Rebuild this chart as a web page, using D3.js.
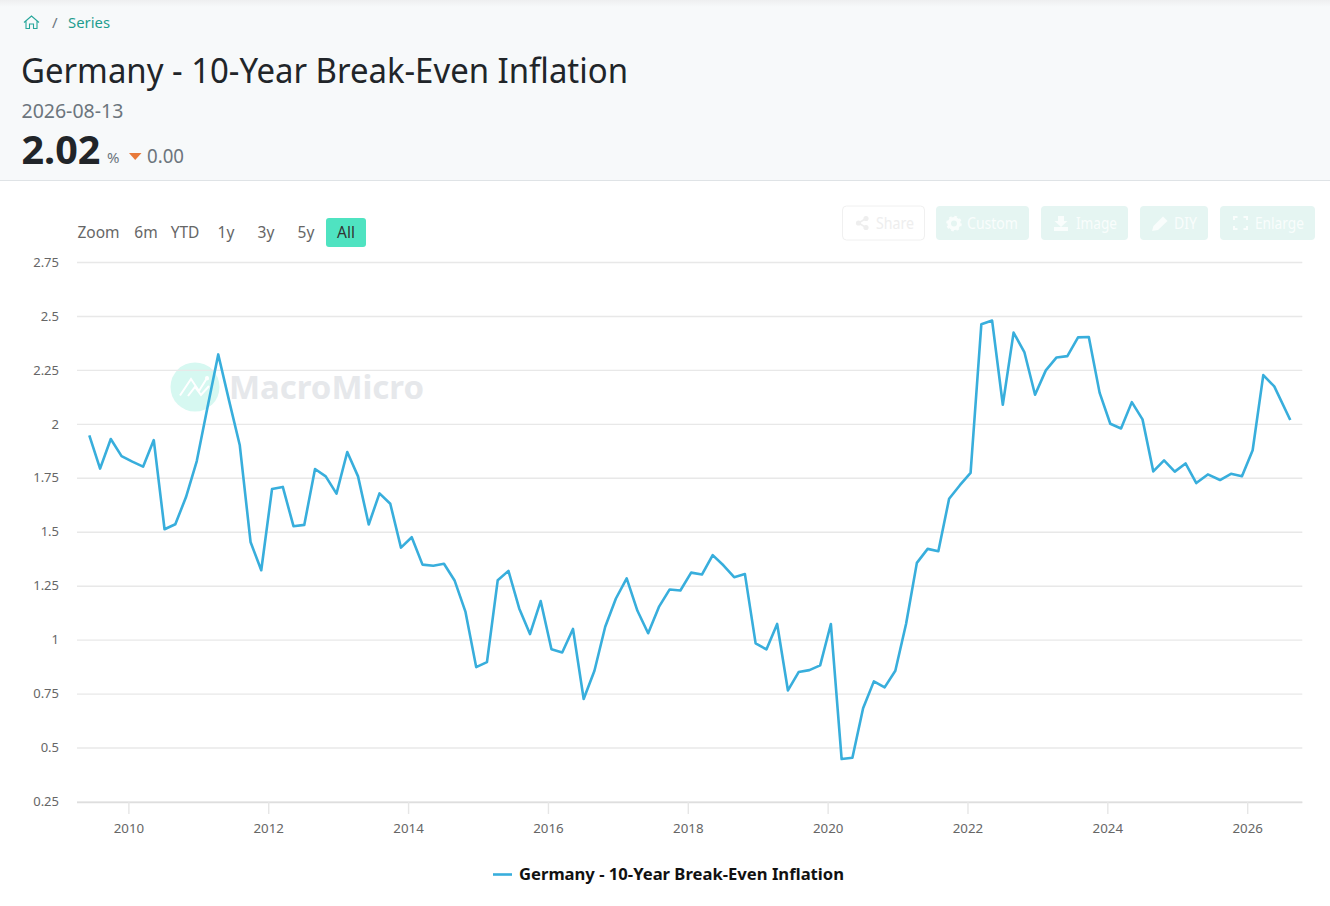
<!DOCTYPE html>
<html>
<head>
<meta charset="utf-8">
<title>Germany - 10-Year Break-Even Inflation</title>
<script src="https://cdnjs.cloudflare.com/ajax/libs/d3/7.8.5/d3.min.js"></script>
<style>
    html, body { margin: 0; padding: 0; background: #fff; overflow: hidden; }
    svg { display: block; font-family: "Noto Sans", sans-serif; }
</style>
</head>
<body>
<div id="chart"></div>
<script>
var years = [
    2009.434, 2009.588, 2009.741, 2009.895, 2010.049, 2010.203, 2010.356, 2010.510,
    2010.664, 2010.817, 2010.971, 2011.125, 2011.278, 2011.432, 2011.586, 2011.740,
    2011.893, 2012.047, 2012.201, 2012.354, 2012.508, 2012.662, 2012.815, 2012.969,
    2013.123, 2013.277, 2013.430, 2013.584, 2013.738, 2013.891, 2014.045, 2014.199,
    2014.353, 2014.506, 2014.660, 2014.814, 2014.967, 2015.121, 2015.275, 2015.428,
    2015.582, 2015.736, 2015.889, 2016.043, 2016.197, 2016.351, 2016.504, 2016.658,
    2016.812, 2016.965, 2017.119, 2017.273, 2017.426, 2017.580, 2017.734, 2017.887,
    2018.041, 2018.195, 2018.349, 2018.502, 2018.656, 2018.810, 2018.963, 2019.117,
    2019.271, 2019.425, 2019.578, 2019.732, 2019.886, 2020.039, 2020.193, 2020.347,
    2020.500, 2020.654, 2020.808, 2020.961, 2021.115, 2021.269, 2021.423, 2021.576,
    2021.730, 2021.884, 2022.037, 2022.191, 2022.345, 2022.498, 2022.652, 2022.806,
    2022.959, 2023.113, 2023.267, 2023.421, 2023.574, 2023.728, 2023.882, 2024.035,
    2024.189, 2024.343, 2024.496, 2024.650, 2024.804, 2024.957, 2025.111, 2025.265,
    2025.430, 2025.604, 2025.761, 2025.918, 2026.071, 2026.223, 2026.380, 2026.609
];
var values = [
    1.949, 1.795, 1.932, 1.853, 1.827, 1.804, 1.927, 1.514,
    1.537, 1.663, 1.830, 2.080, 2.324, 2.111, 1.903, 1.455,
    1.324, 1.700, 1.710, 1.528, 1.534, 1.793, 1.759, 1.679,
    1.872, 1.759, 1.536, 1.680, 1.632, 1.429, 1.477, 1.350,
    1.345, 1.354, 1.275, 1.131, 0.875, 0.898, 1.278, 1.321,
    1.147, 1.028, 1.181, 0.958, 0.943, 1.052, 0.727, 0.858,
    1.062, 1.193, 1.286, 1.136, 1.032, 1.154, 1.235, 1.230,
    1.313, 1.304, 1.394, 1.347, 1.292, 1.306, 0.985, 0.957,
    1.075, 0.767, 0.852, 0.861, 0.883, 1.075, 0.449, 0.455,
    0.684, 0.809, 0.781, 0.858, 1.076, 1.358, 1.423, 1.412,
    1.655, 1.718, 1.775, 2.464, 2.481, 2.091, 2.425, 2.335,
    2.137, 2.250, 2.310, 2.316, 2.403, 2.405, 2.147, 2.003,
    1.981, 2.103, 2.023, 1.782, 1.833, 1.781, 1.819, 1.728,
    1.768, 1.742, 1.771, 1.759, 1.880, 2.228, 2.176, 2.020
];
var yTicks = [0.25, 0.5, 0.75, 1, 1.25, 1.5, 1.75, 2, 2.25, 2.5, 2.75];
var xTicks = [2010, 2012, 2014, 2016, 2018, 2020, 2022, 2024, 2026];
var rangeLabels = ["6m", "YTD", "1y", "3y", "5y", "All"];
var seriesName = "Germany - 10-Year Break-Even Inflation";

function init(){
    var w = 1330, h = 906;
    var lineColor = "#38aedc";

    var svg = d3.select("#chart").append("svg")
        .attr("width", w)
        .attr("height", h);

    // page header band
    var defs = svg.append("defs");
    var fade = defs.append("linearGradient")
        .attr("id", "topfade")
        .attr("x1", 0).attr("y1", 0).attr("x2", 0).attr("y2", 1);
    fade.append("stop").attr("offset", 0).attr("stop-color", "#eeeff0");
    fade.append("stop").attr("offset", 1).attr("stop-color", "#f7f9fa");

    svg.append("rect").attr("width", w).attr("height", 180).attr("fill", "#f7f9fa");
    svg.append("rect").attr("width", w).attr("height", 7).attr("fill", "url(#topfade)");
    svg.append("rect").attr("y", 180).attr("width", w).attr("height", 1).attr("fill", "#dfe3e6");

    // home icon
    svg.append("path")
        .attr("d", "M24 22.5 L31.5 16 L39 22.5 M26 21 V28.5 H29.5 V24 H33.5 V28.5 H37 V21")
        .attr("fill", "none")
        .attr("stroke", "#26a69a")
        .attr("stroke-width", 1.1);
    svg.append("text").attr("x", 52).attr("y", 28).attr("font-size", 15).attr("fill", "#6c757d").text("/");
    svg.append("text").attr("x", 68).attr("y", 28).attr("font-size", 15).attr("fill", "#1f9d8f")
        .attr("textLength", 42).attr("lengthAdjust", "spacingAndGlyphs").text("Series");

    svg.append("text").attr("x", 21).attr("y", 83).attr("font-size", 35).attr("fill", "#212529")
        .attr("textLength", 607).attr("lengthAdjust", "spacingAndGlyphs").text(seriesName);
    svg.append("text").attr("x", 21.5).attr("y", 118).attr("font-size", 19.5).attr("fill", "#6c757d").text("2026-08-13");
    svg.append("text").attr("x", 21.5).attr("y", 164).attr("font-size", 39.5).attr("font-weight", 700).attr("fill", "#212529").text("2.02");
    svg.append("text").attr("x", 107).attr("y", 163).attr("font-size", 15).attr("fill", "#6c757d").text("%");
    svg.append("path").attr("d", "M129 153 H141.5 L135.2 160 Z").attr("fill", "#e8793a");
    svg.append("text").attr("x", 147).attr("y", 163).attr("font-size", 19).attr("fill", "#6c757d")
        .attr("textLength", 37).attr("lengthAdjust", "spacingAndGlyphs").text("0.00");

    // range selector
    svg.append("rect").attr("x", 326).attr("y", 218).attr("width", 40).attr("height", 29).attr("rx", 3).attr("fill", "#4fe3c1");
    svg.append("text").attr("x", 77.5).attr("y", 238).attr("font-size", 15.5).attr("fill", "#666").text("Zoom");
    var rangeX = [146, 185, 226, 266, 306, 346];
    svg.selectAll(".range-label")
        .data(rangeLabels)
        .enter().append("text")
        .attr("class", "range-label")
        .attr("x", (d, i) => rangeX[i])
        .attr("y", 238)
        .attr("text-anchor", "middle")
        .attr("font-size", 15.5)
        .attr("fill", d => d === "All" ? "#333" : "#666")
        .text(d => d);

    // toolbar buttons, washed out as in the original
    var buttons = [
        {label: "Share", x: 842.5, w: 82, tx: 876, tw: 38, fill: "#fff", stroke: "#f0f0f0", color: "#eeeeee"},
        {label: "Custom", x: 936, w: 93, tx: 967, tw: 51, fill: "#e5f5f2", color: "#f9fdfc"},
        {label: "Image", x: 1041, w: 87, tx: 1076, tw: 41, fill: "#e5f5f2", color: "#f9fdfc"},
        {label: "DIY", x: 1140, w: 68, tx: 1174, tw: 23, fill: "#e5f5f2", color: "#f9fdfc"},
        {label: "Enlarge", x: 1220, w: 95, tx: 1255, tw: 49, fill: "#e5f5f2", color: "#f9fdfc"}
    ];
    var btn = svg.selectAll(".btn").data(buttons).enter().append("g").attr("class", "btn");
    btn.append("rect")
        .attr("x", d => d.x).attr("y", 206)
        .attr("width", d => d.w).attr("height", 34)
        .attr("rx", 4)
        .attr("fill", d => d.fill)
        .attr("stroke", d => d.stroke || "none");
    btn.append("text")
        .attr("x", d => d.tx).attr("y", 229)
        .attr("font-size", 15.5)
        .attr("textLength", d => d.tw)
        .attr("lengthAdjust", "spacingAndGlyphs")
        .attr("fill", d => d.color)
        .text(d => d.label);
    // share icon
    svg.append("path")
        .attr("d", "M866 218.5 L858.5 223 L866 227.5")
        .attr("fill", "none").attr("stroke", "#eeeeee").attr("stroke-width", 1.6);
    svg.selectAll(".share-dot").data([[866, 218.5], [858.5, 223], [866, 227.5]]).enter().append("circle")
        .attr("class", "share-dot").attr("cx", d => d[0]).attr("cy", d => d[1]).attr("r", 2.6).attr("fill", "#eeeeee");
    // gear icon
    svg.append("circle").attr("cx", 954).attr("cy", 223.5).attr("r", 4.8)
        .attr("fill", "none").attr("stroke", "#f9fdfc").attr("stroke-width", 3.6);
    svg.append("circle").attr("cx", 954).attr("cy", 223.5).attr("r", 6.6)
        .attr("fill", "none").attr("stroke", "#f9fdfc").attr("stroke-width", 2.4).attr("stroke-dasharray", "2.6 2.6");
    // download icon
    svg.append("path").attr("d", "M1058 216 H1064 V221 H1067.5 L1061 227 L1054.5 221 H1058 Z M1054 227 H1068 V231 H1054 Z").attr("fill", "#f9fdfc");
    // pencil icon
    svg.append("path").attr("d", "M1152 231 L1153.5 226 L1163 216.5 L1167.5 221 L1158 230 Z").attr("fill", "#f9fdfc");
    // enlarge icon
    svg.append("path")
        .attr("d", "M1234 220 V217 H1237.5 M1243.5 217 H1247 V220 M1247 226 V229 H1243.5 M1237.5 229 H1234 V226")
        .attr("fill", "none").attr("stroke", "#f9fdfc").attr("stroke-width", 2);

    // scales
    var x = d3.scaleLinear()
        .domain([2009.258, 2026.781])
        .range([77, 1302.3]);
    var y = d3.scaleLinear()
        .domain([0.25, 2.75])
        .range([802, 262.5]);

    // watermark sits under the line
    var mark = svg.append("g");
    mark.append("circle").attr("cx", 195).attr("cy", 387).attr("r", 24.5).attr("fill", "#d6f8f1");
    mark.append("path")
        .attr("d", "M180 395.5 L191 379 L199 391 L207 378 L208 380 M188 396 L195 387 L201 395 L209 386")
        .attr("fill", "none").attr("stroke", "#fff").attr("stroke-width", 2);
    mark.append("circle").attr("cx", 207).attr("cy", 378).attr("r", 2).attr("fill", "#fff");
    mark.append("text")
        .attr("x", 229).attr("y", 399)
        .attr("font-size", 32).attr("font-weight", 700)
        .attr("textLength", 195).attr("lengthAdjust", "spacingAndGlyphs")
        .attr("fill", "#e6e8eb")
        .text("MacroMicro");

    // y axis with gridlines, -0.5 cancels the half pixel d3 adds to ticks
    var yAxis = svg.append("g")
        .attr("transform", "translate(77,-0.5)")
        .call(d3.axisLeft(y).tickValues(yTicks).tickSize(-(1302.3 - 77)).tickPadding(18).tickFormat(d => String(d)));
    yAxis.select(".domain").remove();
    yAxis.selectAll(".tick line").attr("stroke", "#e8e8e8").attr("stroke-width", 1.4);
    yAxis.selectAll(".tick text")
        .attr("font-family", '"Noto Sans", sans-serif')
        .attr("font-size", 13)
        .attr("dy", "0.32em")
        .attr("fill", "#666");

    // x axis
    var xAxis = svg.append("g")
        .attr("transform", "translate(-0.5,802)")
        .call(d3.axisBottom(x).tickValues(xTicks).tickSize(12).tickSizeOuter(0).tickPadding(10).tickFormat(d3.format("d")));
    xAxis.select(".domain").attr("stroke", "#dedede").attr("stroke-width", 1.4);
    xAxis.selectAll(".tick line").attr("stroke", "#e6e6e6").attr("stroke-width", 1.4);
    xAxis.selectAll(".tick text")
        .attr("font-family", '"Noto Sans", sans-serif')
        .attr("font-size", 13.3)
        .attr("fill", "#666");

    // the series
    var line = d3.line()
        .x((d, i) => x(years[i]))
        .y(d => y(d));
    svg.append("path")
        .datum(values)
        .attr("fill", "none")
        .attr("stroke", lineColor)
        .attr("stroke-width", 2.6)
        .attr("stroke-linejoin", "round")
        .attr("d", line);

    // legend
    svg.append("line")
        .attr("x1", 493).attr("x2", 512)
        .attr("y1", 874.5).attr("y2", 874.5)
        .attr("stroke", lineColor).attr("stroke-width", 2.6);
    svg.append("text")
        .attr("x", 519).attr("y", 879.5)
        .attr("font-size", 16.5)
        .attr("font-weight", 700)
        .attr("fill", "#111")
        .attr("textLength", 325).attr("lengthAdjust", "spacingAndGlyphs")
        .text(seriesName);
}

window.onload = init;
</script>
</body>
</html>
